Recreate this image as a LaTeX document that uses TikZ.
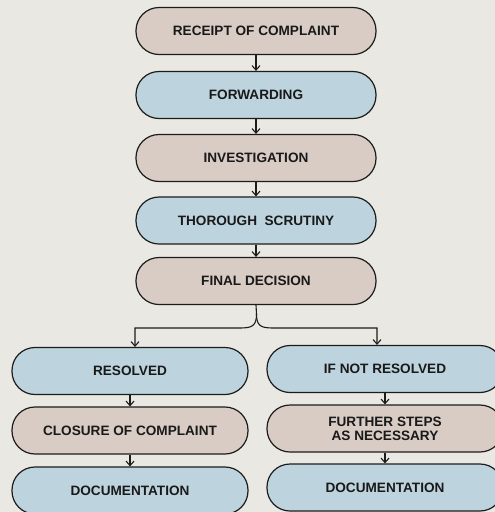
\documentclass[tikz,border=0pt]{standalone}
\usepackage{fontspec}
\setmainfont{Liberation Sans}
\usetikzlibrary{arrows.meta}
\definecolor{bgc}{RGB}{233,232,226}
\definecolor{tanc}{RGB}{217,204,197}
\definecolor{bluec}{RGB}{189,212,222}
\definecolor{edgec}{RGB}{28,28,28}
\tikzset{
  box/.style={draw=edgec, line width=1.2pt, rounded corners=23pt, minimum height=47pt,
    align=center, inner sep=0pt, font=\fontsize{13.6}{13.8}\selectfont\bfseries, text=black!90},
  wide/.style={box, minimum width=240pt},
  half/.style={box, minimum width=236pt},
  tanbox/.style={fill=tanc},
  bluebox/.style={fill=bluec},
  arr/.style={draw=edgec, line width=1.1pt, -{Straight Barb[length=4.5pt,width=8pt,line width=1.1pt]}}
}
\begin{document}
\begin{tikzpicture}[x=1pt,y=-1pt]
\fill[bgc] (0,0) rectangle (495,512);
\useasboundingbox (0,0) rectangle (495,512);
\node[wide,tanbox] (rec) at (256,31) {RECEIPT OF COMPLAINT};
\node[wide,bluebox] (fwd) at (256,95) {FORWARDING};
\node[wide,tanbox] (inv) at (256,158) {INVESTIGATION};
\node[wide,bluebox] (scr) at (256,220.5) {THOROUGH\ \ SCRUTINY};
\node[wide,tanbox] (dec) at (256,281) {FINAL DECISION};
\node[half,bluebox] (res) at (130,371) {RESOLVED};
\node[half,tanbox] (clo) at (130,430.5) {CLOSURE OF COMPLAINT};
\node[half,bluebox] (doc1) at (130,490.5) {DOCUMENTATION};
\node[half,bluebox] (nres) at (385,369) {IF NOT RESOLVED};
\node[half,tanbox] (fur) at (385,428.5) {FURTHER STEPS\\AS NECESSARY};
\node[half,bluebox] (doc2) at (385,487.5) {DOCUMENTATION};
\draw[arr] (rec) -- (fwd);
\draw[arr] (fwd) -- (inv);
\draw[arr] (inv) -- (scr);
\draw[arr] (scr) -- (dec);
\draw[arr] (res) -- (clo);
\draw[arr] (clo) -- (doc1);
\draw[arr] (nres) -- (fur);
\draw[arr] (fur) -- (doc2);
\coordinate (j) at (256.5,314);
\draw[arr] (dec.south) -- (j) .. controls (256.5,326) and (252,328) .. (240,328) -- (135,328) -- (res.north -| 135,0);
\draw[arr] (j) .. controls (256.5,326) and (261,328) .. (273,328) -- (377,328) -- (nres.north -| 377,0);
\end{tikzpicture}
\end{document}
